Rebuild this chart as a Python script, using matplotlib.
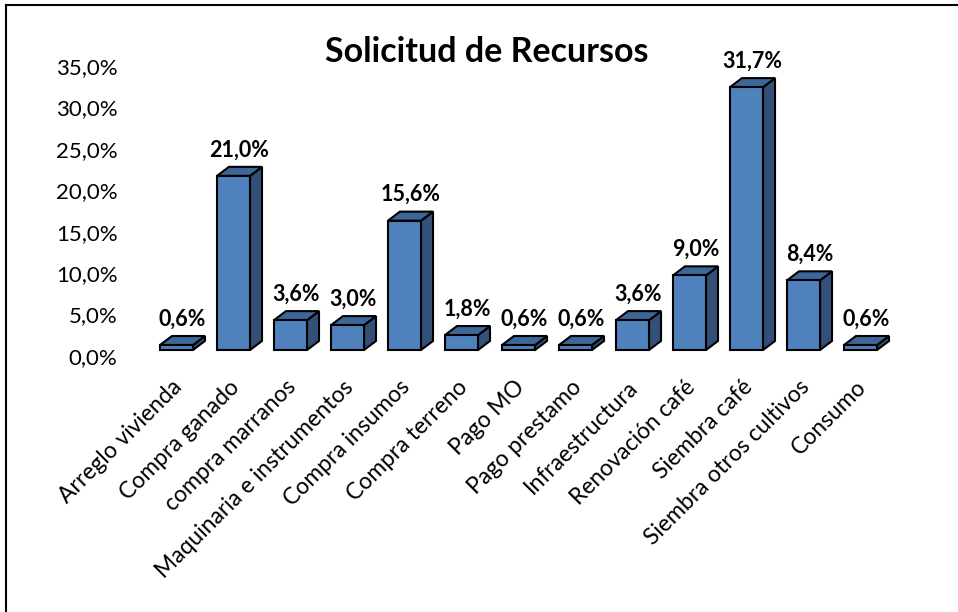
import matplotlib
matplotlib.use("Agg")
import matplotlib.pyplot as plt
from matplotlib.lines import Line2D
from matplotlib.transforms import ScaledTranslation

plt.rcParams["font.family"] = ["Lato", "DejaVu Sans"]

# Datos del gráfico
categorias = [
    "Arreglo vivienda", "Compra ganado", "compra marranos",
    "Maquinaria e instrumentos", "Compra insumos", "Compra terreno",
    "Pago MO", "Pago prestamo", "Infraestructura", "Renovación café",
    "Siembra café", "Siembra otros cultivos", "Consumo"
]
porcentajes = [0.6, 21.0, 3.6, 3.0, 15.6, 1.8, 0.6, 0.6, 3.6, 9.0, 31.7, 8.4, 0.6]
ticks_y = [0, 5, 10, 15, 20, 25, 30, 35]
etiquetas_y = ["0,0%", "5,0%", "10,0%", "15,0%", "20,0%", "25,0%", "30,0%", "35,0%"]

color_frente = "#4F81BD"
color_arriba = "#3D6699"
color_lado = "#335079"

ancho = 0.58
prof_x = 0.21   # profundidad en unidades de x
prof_y = 1.09   # profundidad en unidades de y (%)

fig = plt.figure(figsize=(9.58, 6.12), dpi=100)
ax = fig.add_axes([0.1545, 0.4281, 0.7735, 0.4742])

for i, v in enumerate(porcentajes):
    x0 = i - ancho / 2
    x1 = i + ancho / 2
    # cara lateral
    ax.fill([x1, x1 + prof_x, x1 + prof_x, x1],
            [0, prof_y, v + prof_y, v],
            facecolor=color_lado, edgecolor="black", linewidth=1.5,
            zorder=2, clip_on=False)
    # cara superior
    ax.fill([x0, x1, x1 + prof_x, x0 + prof_x],
            [v, v, v + prof_y, v + prof_y],
            facecolor=color_arriba, edgecolor="black", linewidth=1.5,
            zorder=2, clip_on=False)
    # etiqueta de valor
    ax.text(i + prof_x / 2, v + prof_y + 0.8, f"{v:.1f}%".replace(".", ","),
            ha="center", va="bottom", fontsize=15.5, fontweight="bold",
            clip_on=False)

ax.bar(range(len(porcentajes)), porcentajes, width=ancho,
       color=color_frente, edgecolor="black", linewidth=1.5, zorder=3,
       clip_on=False)

ax.set_xlim(-0.5, len(porcentajes) - 0.5)
ax.set_ylim(0, 35)
ax.set_yticks(ticks_y)
ax.set_yticklabels(etiquetas_y, fontsize=16)
ax.set_xticks(range(len(categorias)))
ax.set_xticklabels(categorias, fontsize=16.5, rotation=45, ha="right",
                   va="top", rotation_mode="anchor")
ax.tick_params(axis="y", length=0, pad=22)
ax.tick_params(axis="x", length=0, pad=19)
for lbl in ax.get_yticklabels():
    lbl.set_transform(lbl.get_transform() + ScaledTranslation(0, -6 / 100, fig.dpi_scale_trans))
for lbl in ax.get_xticklabels():
    lbl.set_transform(lbl.get_transform() + ScaledTranslation(-5 / 100, 0, fig.dpi_scale_trans))
for s in ax.spines.values():
    s.set_visible(False)
ax.patch.set_visible(False)

fig.text(0.508, 0.915, "Solicitud de Recursos", ha="center", va="center",
         fontsize=24.5, fontweight="bold")

# marco del gráfico
fig.add_artist(Line2D([6 / 958, 6 / 958], [0, 1 - 5 / 612], color="black", linewidth=1.5))
fig.add_artist(Line2D([6 / 958, 1], [1 - 5 / 612, 1 - 5 / 612], color="black", linewidth=1.5))

plt.savefig("out.png", dpi=100)
